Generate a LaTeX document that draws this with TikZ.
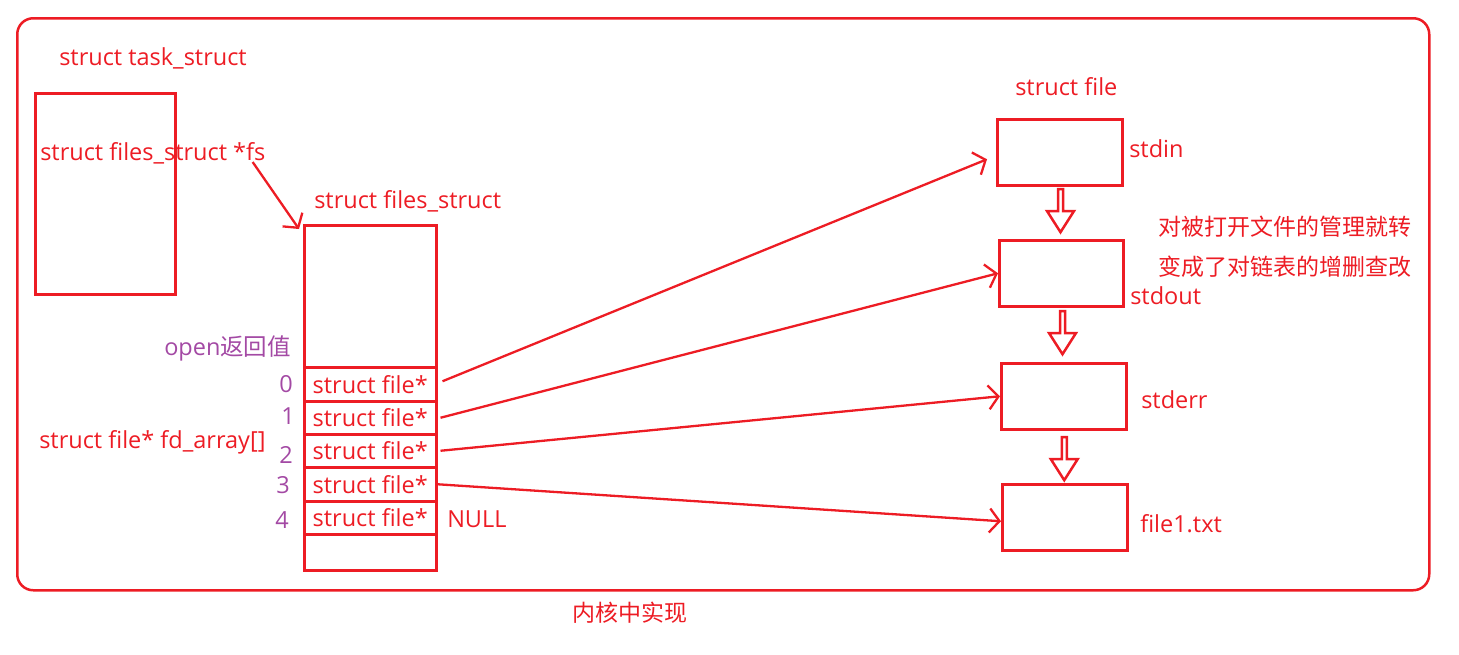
\documentclass[tikz,border=0pt]{standalone}
\usepackage{fontspec}
\setmainfont{Open Sans}
\newfontfamily\cjk{Noto Sans CJK SC}
\usetikzlibrary{arrows.meta,shapes.arrows,calc}
\definecolor{pred}{HTML}{ED1C24}
\definecolor{ppur}{HTML}{A349A4}
\begin{document}
\begin{tikzpicture}[x=1pt,y=1pt,line width=2.5pt,
  box/.style={draw=pred,rectangle,inner sep=0pt,anchor=north west},
  rowbox/.style={box,minimum width=132pt,text=pred,font=\fontsize{23.5}{26}\selectfont},
  lbl/.style={text=pred,inner sep=0pt,anchor=base west,font=\fontsize{23.5}{26}\selectfont},
  cjklbl/.style={lbl,font=\cjk\fontsize{23}{26}\selectfont},
  num/.style={lbl,text=ppur},
  ptr/.style={draw=pred,line width=2.3pt,-{Straight Barb[length=10pt,width=24pt]}},
  blk/.style={single arrow,draw=pred,rotate=-90,minimum height=43pt,minimum width=27pt,
    single arrow head extend=5.5pt,single arrow tip angle=65,inner sep=0pt}
]
\useasboundingbox (0,0) rectangle (1459,-654);
% kernel frame
\node[box,minimum width=1412pt,minimum height=572pt,rounded corners=16pt] (kernel) at (16,-17) {};
% task_struct
\node[lbl] (tasklbl) at (58,-65) {struct task\_struct};
\node[box,minimum width=140pt,minimum height=201pt] (task) at (34,-92) {};
\node[lbl] (fs) at (39,-160) {struct files\_struct *fs};
% files_struct
\node[lbl] (fslbl) at (313,-208) {struct files\_struct};
\node[box,minimum width=132pt,minimum height=345pt] (arr) at (303,-224) {};
\node[rowbox,minimum height=34pt] (r0) at (303,-366) {struct file*};
\node[rowbox,minimum height=33pt] (r1) at (303,-400) {struct file*};
\node[rowbox,minimum height=33pt] (r2) at (303,-433) {struct file*};
\node[rowbox,minimum height=34pt] (r3) at (303,-466) {struct file*};
\node[rowbox,minimum height=33pt] (r4) at (303,-500) {struct file*};
\node[rowbox,minimum height=36pt] (r5) at (303,-533) {};
\node[num] (open) at (163,-355) {open{\cjk 返回值}};
\node[num] (n0) at (278,-392) {0};
\node[num] (n1) at (280,-424) {1};
\node[num] (n2) at (278,-463) {2};
\node[num] (n3) at (275,-493) {3};
\node[num] (n4) at (274,-528) {4};
\node[lbl] (fdarr) at (38,-448) {struct file* fd\_array[]};
\node[lbl] (null) at (446,-527) {NULL};
% struct file list
\node[lbl] (sflbl) at (1014,-95) {struct file};
\node[box,minimum width=125pt,minimum height=66pt] (stdin) at (996,-118) {};
\node[box,minimum width=124pt,minimum height=66pt] (stdout) at (998,-239) {};
\node[box,minimum width=125pt,minimum height=66pt] (stderr) at (1000,-362) {};
\node[box,minimum width=125pt,minimum height=66pt] (file1) at (1001,-483) {};
\node[lbl] (lin) at (1128,-157) {stdin};
\node[lbl] (lout) at (1129,-304) {stdout};
\node[lbl] (lerr) at (1140,-408) {stderr};
\node[lbl] (lf1) at (1139,-532) {file1.txt};
\node[cjklbl] (note1) at (1157,-235) {对被打开文件的管理就转};
\node[cjklbl] (note2) at (1157,-275) {变成了对链表的增删查改};
\node[cjklbl] (kern) at (571,-621) {内核中实现};
% block arrows
\node[blk,xshift=-4pt] (d1) at ($(stdin.south)!0.5!(stdout.north)$) {};
\node[blk,xshift=-4pt] (d2) at ($(stdout.south)!0.5!(stderr.north)$) {};
\node[blk] (d3) at ($(stderr.south)!0.5!(file1.north)$) {};
% pointers
\draw[ptr] ([shift={(-14pt,-2pt)}]fs.base east) -- ([shift={(-4pt,-5pt)}]arr.north west);
\draw[ptr] ([shift={(5pt,3pt)}]r0.east) -- ([shift={(-9pt,-7pt)}]stdin.west);
\draw[ptr] ([xshift=3pt]r1.east) -- (stdout.west);
\draw[ptr] ([xshift=3pt]r2.east) -- (stderr.west);
\draw[ptr] (r3.east) -- ([yshift=-4pt]file1.west);
\end{tikzpicture}
\end{document}
